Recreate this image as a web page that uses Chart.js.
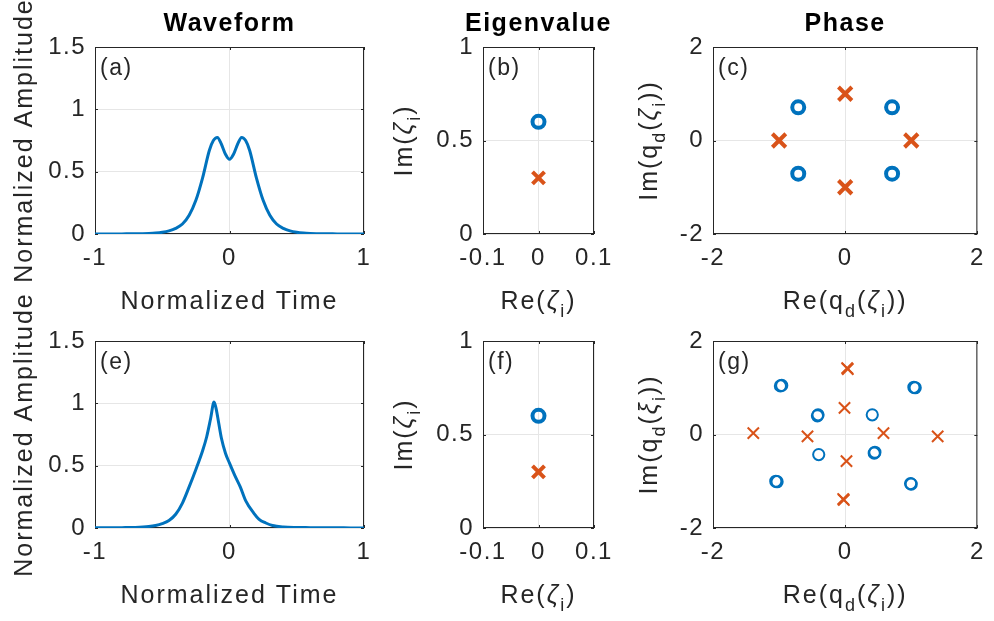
<!DOCTYPE html>
<html>
<head>
<meta charset="utf-8">
<script src="https://cdn.jsdelivr.net/npm/chart.js@4.4.0/dist/chart.umd.min.js"></script>
<style>
  html, body { margin: 0; padding: 0; background: #fff; }
  #page { position: relative; width: 994px; height: 621px; overflow: hidden; background: #fff; }
  .panel { position: absolute; left: 0; top: 0; width: 994px; height: 621px; }
</style>
</head>
<body>
<div id="page">
  <div class="panel"><canvas id="chart-a"></canvas></div>
  <div class="panel"><canvas id="chart-b"></canvas></div>
  <div class="panel"><canvas id="chart-c"></canvas></div>
  <div class="panel"><canvas id="chart-e"></canvas></div>
  <div class="panel"><canvas id="chart-f"></canvas></div>
  <div class="panel"><canvas id="chart-g"></canvas></div>
</div>
<script>
// --- Data ---

// (a) waveform
const timeA = [-1, -0.9, -0.8, -0.7, -0.6, -0.55, -0.5, -0.45, -0.4, -0.35, -0.3, -0.25, -0.2, -0.15, -0.12, -0.09,
               -0.06, -0.03, 0, 0.03, 0.06, 0.09, 0.12, 0.15, 0.2, 0.25, 0.3, 0.35, 0.4, 0.45, 0.5, 0.55, 0.6, 0.7, 0.8, 0.9, 1];
const ampA  = [0, 0, 0.001, 0.002, 0.005, 0.008, 0.014, 0.025, 0.045, 0.08, 0.15, 0.27, 0.45, 0.67, 0.75, 0.775,
               0.72, 0.64, 0.6, 0.64, 0.72, 0.775, 0.75, 0.67, 0.45, 0.27, 0.15, 0.08, 0.045, 0.025, 0.014, 0.008, 0.005, 0.002, 0.001, 0, 0];

// (e) waveform
const timeE = [-1, -0.9, -0.8, -0.7, -0.6, -0.55, -0.5, -0.45, -0.4, -0.35, -0.3, -0.25, -0.2, -0.17, -0.14, -0.115,
               -0.1, -0.08, -0.06, -0.03, 0, 0.04, 0.08, 0.12, 0.18, 0.22, 0.27, 0.32, 0.4, 0.5, 0.6, 0.7, 0.8, 0.9, 1];
const ampE  = [0.002, 0.002, 0.003, 0.005, 0.012, 0.02, 0.035, 0.06, 0.11, 0.2, 0.33, 0.47, 0.62, 0.73, 0.88, 1.01,
               0.96, 0.84, 0.72, 0.6, 0.52, 0.42, 0.33, 0.22, 0.12, 0.07, 0.04, 0.02, 0.008, 0.004, 0.003, 0.002, 0.002, 0.001, 0.001];

// (b) eigenvalues
const eigBCircleRe = [0];
const eigBCircleIm = [0.6];
const eigBCrossRe = [0];
const eigBCrossIm = [0.3];

// (f) eigenvalues
const eigFCircleRe = [0];
const eigFCircleIm = [0.6];
const eigFCrossRe = [0];
const eigFCrossIm = [0.3];

// (c) phase
const phaseCCircleRe = [-0.71, 0.71, -0.71, 0.71];
const phaseCCircleIm = [0.71, 0.71, -0.71, -0.71];
const phaseCCrossRe = [0, -1, 1, 0];
const phaseCCrossIm = [1, 0, 0, -1];

// (g) phase
const phaseGCircleRe = [-0.98, -0.96, 1.06, 1.04, -0.42, -0.41, 0.41, -0.4, 0.44, 0.45, -1.05, -1.03, 0.99, 1.0];
const phaseGCircleIm = [1.04, 1.05, 1.0, 1.01, 0.4, 0.42, 0.42, -0.43, -0.4, -0.38, -1.0, -1.01, -1.05, -1.06];
const phaseGCrossRe = [0.04, 0.03, -0.01, -1.39, -0.57, 0.58, 1.4, 0.02, -0.03, -0.02];
const phaseGCrossIm = [1.4, 1.42, 0.57, 0.03, -0.04, 0.03, -0.04, -0.57, -1.38, -1.4];

// Ticks
const timeTicks = [-1, 0, 1];
const ampTicks = [0, 0.5, 1, 1.5];
const eigReTicks = [-0.1, 0, 0.1];
const eigImTicks = [0, 0.5, 1];
const phaseTicks = [-2, 0, 2];

// --- Style ---
const FONT = '"Liberation Sans", Arial, Helvetica, sans-serif';
const TEXT = '#262626';
const BLUE = '#0072BD';
const ORANGE = '#D95319';
const GRID = '#e6e6e6';
const AXIS_W = 80;   // fixed y-scale width
const AXIS_H = 50;   // fixed x-scale height

// Axis label pieces: [text, kind] with kind '' | 'sub' | 'it'
const LBL_TIME = [['Normalized Time', '']];
const LBL_AMP = [['Normalized Amplitude', '']];
const LBL_RE_Z = [['Re(', ''], ['\u03B6', 'it'], ['i', 'sub'], [')', '']];
const LBL_IM_Z = [['Im(', ''], ['\u03B6', 'it'], ['i', 'sub'], [')', '']];
const LBL_RE_QZ = [['Re(q', ''], ['d', 'sub'], ['(', ''], ['\u03B6', 'it'], ['i', 'sub'], ['))', '']];
const LBL_IM_QZ = [['Im(q', ''], ['d', 'sub'], ['(', ''], ['\u03B6', 'it'], ['i', 'sub'], ['))', '']];
const LBL_IM_QX = [['Im(q', ''], ['d', 'sub'], ['(', ''], ['\u03BE', 'it'], ['i', 'sub'], ['))', '']];

function pts(xs, ys) {
    return xs.map((x, i) => ({ x: x, y: ys[i] }));
}

function partFont(kind, size) {
    if (kind === 'sub') return `${Math.round(size * 0.7)}px ${FONT}`;
    if (kind === 'it') return `italic ${size}px ${FONT}`;
    return `${size}px ${FONT}`;
}

function drawRich(ctx, parts, x, y, size) {
    ctx.letterSpacing = '2px';
    let w = 0;
    parts.forEach(p => { ctx.font = partFont(p[1], size); w += ctx.measureText(p[0]).width; });
    let cx = x - w / 2;
    ctx.textAlign = 'left';
    ctx.textBaseline = 'alphabetic';
    parts.forEach(p => {
        ctx.font = partFont(p[1], size);
        const dy = p[1] === 'sub' ? size * 0.3 : 0;
        ctx.fillText(p[0], cx, y + dy);
        cx += ctx.measureText(p[0]).width;
    });
}

// Box, inner ticks and annotations
const decorPlugin = {
    id: 'decor',
    beforeDraw(chart) {
        chart.ctx.letterSpacing = '1.5px';
    },
    beforeDatasetsDraw(chart) {
        const { ctx, chartArea: a, scales } = chart;
        ctx.save();
        ctx.strokeStyle = TEXT;
        ctx.lineWidth = 1;
        ctx.strokeRect(a.left + 0.5, a.top + 0.5, a.right - a.left - 1, a.bottom - a.top - 1);
        ctx.beginPath();
        const tl = 3;
        scales.x.ticks.forEach(t => {
            const px = Math.round(scales.x.getPixelForValue(t.value)) + 0.5;
            ctx.moveTo(px, a.bottom); ctx.lineTo(px, a.bottom - tl);
            ctx.moveTo(px, a.top); ctx.lineTo(px, a.top + tl);
        });
        scales.y.ticks.forEach(t => {
            const py = Math.round(scales.y.getPixelForValue(t.value)) + 0.5;
            ctx.moveTo(a.left, py); ctx.lineTo(a.left + tl, py);
            ctx.moveTo(a.right, py); ctx.lineTo(a.right - tl, py);
        });
        ctx.stroke();
        ctx.restore();
    },
    afterDraw(chart) {
        const { ctx, chartArea: a } = chart;
        const o = chart.options.plugins.decor;
        const cx = (a.left + a.right) / 2;
        const cy = (a.top + a.bottom) / 2;
        ctx.save();
        ctx.fillStyle = TEXT;
        // panel letter
        ctx.letterSpacing = '1.5px';
        ctx.font = `23px ${FONT}`;
        ctx.textAlign = 'left';
        ctx.textBaseline = 'alphabetic';
        ctx.fillText(o.letter, a.left + 5, a.top + 28);
        // title
        if (o.title) {
            ctx.fillStyle = '#000';
            ctx.letterSpacing = '1.5px';
            ctx.font = `bold 25px ${FONT}`;
            ctx.textAlign = 'center';
            ctx.fillText(o.title, cx, a.top - 16);
            ctx.fillStyle = TEXT;
        }
        // x label
        drawRich(ctx, o.xLabel, cx, a.bottom + 75, 25);
        // y label
        ctx.translate(a.left - o.yOff, cy);
        ctx.rotate(-Math.PI / 2);
        drawRich(ctx, o.yLabel, 0, 0, 25);
        ctx.restore();
    }
};

function axis(min, max, tickValues, isX) {
    return {
        type: 'linear',
        min: min,
        max: max,
        afterBuildTicks: s => { s.ticks = tickValues.map(v => ({ value: v })); },
        afterFit: s => { if (isX) s.height = AXIS_H; else s.width = AXIS_W; },
        grid: { color: GRID, lineWidth: 1, drawTicks: false },
        border: { display: false },
        ticks: {
            color: TEXT,
            font: { family: FONT, size: 24 },
            padding: isX ? 10 : 9,
            maxRotation: 0,
            autoSkip: false,
            callback: v => String(v)
        }
    };
}

function circleSet(data, radius, width) {
    return {
        data: data, pointStyle: 'circle', pointRadius: radius, pointBorderWidth: width,
        borderColor: BLUE, pointBorderColor: BLUE, backgroundColor: 'rgba(0,0,0,0)',
        pointBackgroundColor: 'rgba(0,0,0,0)', showLine: false
    };
}

function crossSet(data, radius, width) {
    return {
        data: data, pointStyle: 'crossRot', pointRadius: radius, pointBorderWidth: width,
        borderColor: ORANGE, pointBorderColor: ORANGE, showLine: false
    };
}

function waveSet(data) {
    return {
        data: data, showLine: true, borderColor: BLUE, borderWidth: 3, pointRadius: 0,
        cubicInterpolationMode: 'monotone', fill: false
    };
}

// --- Panels: plot box [left, top, right, bottom] in page pixels ---
const PANELS = [
    { id: 'chart-a', box: [95, 47, 364, 234], letter: '(a)', title: 'Waveform', xLabel: LBL_TIME, yLabel: LBL_AMP, yOff: 63,
      x: [-1, 1, timeTicks], y: [0, 1.5, ampTicks], datasets: [waveSet(pts(timeA, ampA))] },
    { id: 'chart-b', box: [483, 47, 594, 234], letter: '(b)', title: 'Eigenvalue', xLabel: LBL_RE_Z, yLabel: LBL_IM_Z, yOff: 71,
      x: [-0.1, 0.1, eigReTicks], y: [0, 1, eigImTicks],
      datasets: [circleSet(pts(eigBCircleRe, eigBCircleIm), 6, 4), crossSet(pts(eigBCrossRe, eigBCrossIm), 8.5, 4)] },
    { id: 'chart-c', box: [713, 47, 983, 234], letter: '(c)', title: 'Phase', xLabel: LBL_RE_QZ, yLabel: LBL_IM_QZ, yOff: 56,
      x: [-2, 2, phaseTicks], y: [-2, 2, phaseTicks],
      datasets: [circleSet(pts(phaseCCircleRe, phaseCCircleIm), 6, 4), crossSet(pts(phaseCCrossRe, phaseCCrossIm), 9.5, 4)] },
    { id: 'chart-e', box: [95, 341, 364, 528], letter: '(e)', title: null, xLabel: LBL_TIME, yLabel: LBL_AMP, yOff: 63,
      x: [-1, 1, timeTicks], y: [0, 1.5, ampTicks], datasets: [waveSet(pts(timeE, ampE))] },
    { id: 'chart-f', box: [483, 341, 594, 528], letter: '(f)', title: null, xLabel: LBL_RE_Z, yLabel: LBL_IM_Z, yOff: 71,
      x: [-0.1, 0.1, eigReTicks], y: [0, 1, eigImTicks],
      datasets: [circleSet(pts(eigFCircleRe, eigFCircleIm), 6, 4), crossSet(pts(eigFCrossRe, eigFCrossIm), 8.5, 4)] },
    { id: 'chart-g', box: [713, 341, 983, 528], letter: '(g)', title: null, xLabel: LBL_RE_QZ, yLabel: LBL_IM_QX, yOff: 56,
      x: [-2, 2, phaseTicks], y: [-2, 2, phaseTicks],
      datasets: [circleSet(pts(phaseGCircleRe, phaseGCircleIm), 5.6, 2), crossSet(pts(phaseGCrossRe, phaseGCrossIm), 8, 2)] }
];

PANELS.forEach(p => {
    const [l, t, r, b] = p.box;
    new Chart(document.getElementById(p.id), {
        type: 'scatter',
        data: { datasets: p.datasets },
        options: {
            responsive: true,
            maintainAspectRatio: false,
            devicePixelRatio: 1,
            animation: false,
            events: [],
            layout: { padding: { left: l - AXIS_W, top: t, right: 994 - r, bottom: 621 - b - AXIS_H } },
            plugins: {
                legend: { display: false },
                tooltip: { enabled: false },
                decor: { letter: p.letter, title: p.title, xLabel: p.xLabel, yLabel: p.yLabel, yOff: p.yOff }
            },
            scales: {
                x: axis(p.x[0], p.x[1], p.x[2], true),
                y: axis(p.y[0], p.y[1], p.y[2], false)
            }
        },
        plugins: [decorPlugin]
    });
});
</script>
</body>
</html>
